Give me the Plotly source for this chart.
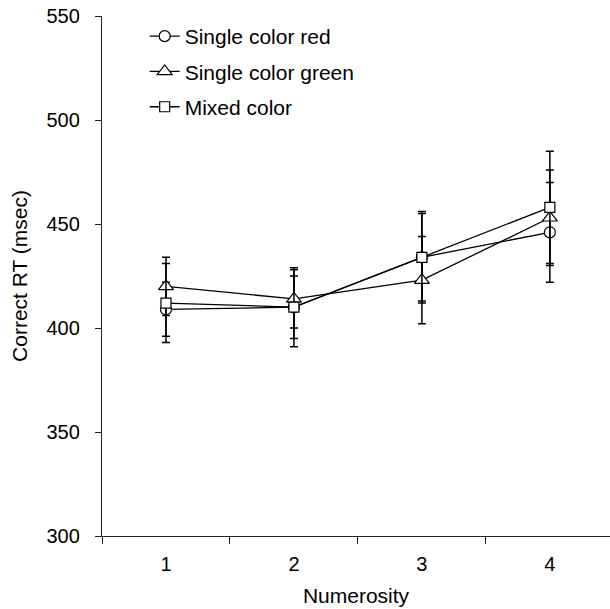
import plotly.graph_objects as go

numerosity = [1, 2, 3, 4]
tick_labels = ["1", "2", "3", "4"]
series_names = ["Single color red", "Single color green", "Mixed color"]
red_rt = [409, 410, 434, 446]
red_err = [13, 19, 22, 24]
green_rt = [420, 414, 423, 453]
green_err = [14, 14, 21, 23]
mixed_rt = [412, 410, 434, 458]
mixed_err = [19, 15, 21, 27]
symbols = ["circle", "triangle-up", "square"]
sizes = [11, 13, 10]

fig = go.Figure()
for i, (name, y, e) in enumerate(zip(series_names, [red_rt, green_rt, mixed_rt], [red_err, green_err, mixed_err])):
    fig.add_trace(go.Scatter(
        x=numerosity, y=y, name=name, mode="lines+markers",
        legendgroup=f"g{i}",
        line=dict(color="black", width=1.3),
        marker=dict(symbol=symbols[i], size=sizes[i], color="white",
                    line=dict(color="black", width=1.2)),
        error_y=dict(type="data", array=e, visible=True, color="black", thickness=1.5, width=4),
    ))

fig.update_layout(
    width=610, height=609,
    margin=dict(l=102, r=0, t=16, b=73),
    plot_bgcolor="white", paper_bgcolor="white",
    font=dict(family="Liberation Sans, Arial, sans-serif", size=20, color="black"),
    showlegend=True,
    legend=dict(x=0.084, y=1.0, xanchor="left", yanchor="top", bgcolor="rgba(0,0,0,0)",
                tracegroupgap=5, font=dict(size=21)),
    xaxis=dict(range=[0.5, 4.47], tickvals=numerosity, ticktext=tick_labels, ticks="",
               showline=True, linecolor="#222", linewidth=1.3, showgrid=False, zeroline=False,
               automargin=False, ticklabelstandoff=10, tickfont=dict(size=20),
               minor=dict(tickvals=[0.5, 1.5, 2.5, 3.5], ticks="outside", ticklen=7, tickcolor="#222", tickwidth=1.3),
               title=dict(text="Numerosity", standoff=14, font=dict(size=21))),
    yaxis=dict(range=[300, 550], tickvals=[300, 350, 400, 450, 500, 550], ticks="outside", ticklen=6,
               tickcolor="#222", tickwidth=1.3, showline=True, linecolor="#222", linewidth=1.3, showgrid=False,
               zeroline=False, ticklabelstandoff=11, automargin=False, tickfont=dict(size=20),
               title=dict(text="Correct RT (msec)", standoff=13, font=dict(size=21))),
)
fig.write_html("out.html", config={"displayModeBar": False},
               post_script="document.body.style.margin='0px';")
